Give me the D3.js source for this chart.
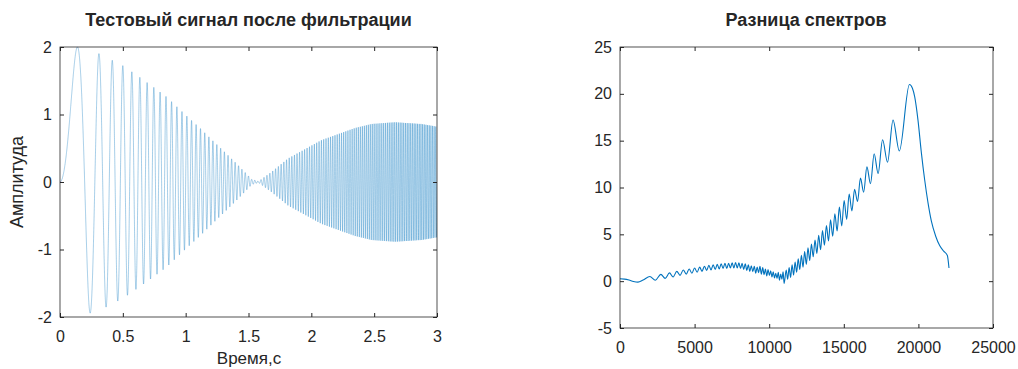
<!DOCTYPE html>
<html>
<head>
<meta charset="utf-8">
<title>Сигнал после фильтрации</title>
<style>
  body { margin: 0; background: #fff; }
  svg text { font-family: "Liberation Sans", Arial, sans-serif; fill: #262626; }
</style>
</head>
<body>
<script src="https://d3js.org/d3.v7.min.js"></script>
<script>
    // left panel: envelope of the filtered chirp (time s, amplitude)
    var envTime = [0, 0.151, 0.244, 0.313, 0.371, 0.419, 0.464, 0.504, 0.636, 0.748, 0.849, 0.933,
                   1.013, 1.119, 1.217, 1.307, 1.395, 1.474, 1.525, 1.58, 1.684, 1.816, 2.08,
                   2.347, 2.48, 2.665, 2.877, 3.0];
    var envAmp  = [2.0, 2.0, 1.94, 1.90, 1.85, 1.80, 1.76, 1.72, 1.55, 1.40, 1.26, 1.11,
                   0.97, 0.79, 0.61, 0.45, 0.29, 0.14, 0.04, 0.01, 0.15, 0.35, 0.62,
                   0.80, 0.86, 0.886, 0.86, 0.82];
    var chirpRate = 26;      // Hz per second, from the spacing of the visible peaks
    var sampleRate = 4000;   // points per second drawn
    var timeTicks = [0, 0.5, 1, 1.5, 2, 2.5, 3];
    var ampTicks = [-2, -1, 0, 1, 2];

    // right panel: spectrum difference, peaks and troughs
    var specFreq = [0, 300, 600, 900, 1200, 1550, 2000, 2370, 2739, 3028, 3317, 3562, 3808, 4025, 4243, 4440,
        4637, 4818, 5000, 5170, 5339, 5498, 5657, 5808, 5958, 6100, 6245, 6382, 6519, 6650, 6782, 6908,
        7035, 7157, 7280, 7398, 7517, 7631, 7746, 7857, 7969, 8077, 8185, 8290, 8396, 8500, 8602, 8702,
        8803, 8900, 9000, 9096, 9192, 9286, 9381, 9473, 9566, 9656, 9747, 9836, 9925, 10012, 10100, 10185,
        10271, 10355, 10440, 10523, 10607, 10688, 10770, 10851, 10932, 11000, 11140, 11237, 11334, 11434,
        11533, 11635, 11736, 11840, 11944, 12050, 12157, 12266, 12375, 12488, 12600, 12715, 12831, 12950,
        13070, 13193, 13316, 13443, 13571, 13703, 13836, 13974, 14112, 14256, 14400, 14551, 14703, 14862,
        15022, 15191, 15361, 15540, 15724, 15920, 16117, 16330, 16549, 16790, 17034, 17300, 17600, 17930,
        18300, 18720, 19400, 19600, 19750, 19972, 20200, 20422, 20645, 20870, 21160, 21425, 21695, 21940, 22050];
    var specDiff = [0.25, 0.22, 0.12, -0.03, -0.1, 0.12, 0.5, 0.1, 0.72, 0.3, 0.88, 0.45, 1.05, 0.62, 1.2, 0.75,
        1.3, 0.85, 1.4, 0.95, 1.5, 1.05, 1.6, 1.15, 1.7, 1.2, 1.75, 1.25, 1.8, 1.3, 1.85, 1.35,
        1.9, 1.35, 1.9, 1.4, 1.95, 1.4, 2.0, 1.4, 1.95, 1.35, 1.9, 1.25, 1.85, 1.15, 1.75, 1.05,
        1.65, 1.0, 1.6, 0.85, 1.5, 0.9, 1.6, 0.75, 1.45, 0.7, 1.3, 0.55, 1.25, 0.6, 1.1, 0.45,
        1.0, 0.35, 0.85, 0.3, 0.95, 0.1, 0.75, 0.2, 1.0, -0.25, 1.2, 0.2, 1.45, 0.4,
        1.75, 0.65, 2.05, 0.95, 2.4, 1.25, 2.75, 1.5, 3.15, 1.8, 3.55, 2.2, 3.95, 2.6,
        4.4, 2.95, 4.9, 3.35, 5.4, 3.85, 5.95, 4.3, 6.55, 4.8, 7.2, 5.35, 7.9, 5.9,
        8.6, 6.6, 9.3, 7.5, 9.8, 8.5, 11.0, 9.5, 12.2, 10.4, 13.6, 11.5, 15.1, 12.7,
        17.2, 13.9, 21.0, 20.6, 19.7, 17.2, 13.7, 10.8, 8.35, 6.4, 4.8, 3.8, 3.2, 2.75, 1.4];
    var freqTicks = [0, 5000, 10000, 15000, 20000, 25000];
    var diffTicks = [-5, 0, 5, 10, 15, 20, 25];

    var width = 1018,
        height = 369,
        lineColor = '#0072bd';

    var svg = d3.select('body').append('svg')
            .attr('width', width)
            .attr('height', height);

    function drawFrame(x, y, xTicks, yTicks) {
        var g = svg.append('g');
        var x0 = x.range()[0], x1 = x.range()[1],
            yB = y.range()[0], yT = y.range()[1];
        var fmt = function (d) { return String(d); };

        g.append('g').attr('transform', 'translate(0,' + yB + ')')
            .call(d3.axisBottom(x).tickValues(xTicks).tickFormat(fmt).tickSizeInner(-4).tickSizeOuter(0).tickPadding(14));
        g.append('g').attr('transform', 'translate(' + x0 + ',0)')
            .call(d3.axisLeft(y).tickValues(yTicks).tickFormat(fmt).tickSizeInner(-4).tickSizeOuter(0).tickPadding(8));
        // mirrored ticks on top and right, no labels
        g.append('g').attr('transform', 'translate(0,' + yT + ')')
            .call(d3.axisTop(x).tickValues(xTicks).tickFormat('').tickSizeInner(-4).tickSizeOuter(0));
        g.append('g').attr('transform', 'translate(' + x1 + ',0)')
            .call(d3.axisRight(y).tickValues(yTicks).tickFormat('').tickSizeInner(-4).tickSizeOuter(0));

        g.selectAll('.domain').remove();
        g.selectAll('.tick line').attr('stroke', '#262626');
        g.selectAll('.tick text')
            .attr('font-family', '"Liberation Sans", Arial, sans-serif')
            .attr('font-size', 16)
            .attr('fill', '#262626');

        g.append('rect')
            .attr('x', x0).attr('y', yT)
            .attr('width', x1 - x0).attr('height', yB - yT)
            .attr('fill', 'none')
            .attr('stroke', '#262626')
            .attr('stroke-width', 0.8);
    }

    function addTitle(text, cx) {
        svg.append('text')
            .attr('x', cx).attr('y', 26)
            .attr('text-anchor', 'middle')
            .attr('font-size', 18)
            .attr('font-weight', 'bold')
            .attr('fill', '#000')
            .text(text);
    }

    // ---- left: filtered test signal ----
    var xSig = d3.scaleLinear().domain([0, 3]).range([60, 437]);
    var ySig = d3.scaleLinear().domain([-2, 2]).range([317, 47]);
    var envelope = d3.scaleLinear().domain(envTime).range(envAmp);

    var sig = d3.range(0, 3 * sampleRate + 1).map(function (i) {
        var t = i / sampleRate;
        return [t, envelope(t) * Math.sin(Math.PI * chirpRate * t * t)];
    });

    svg.append('clipPath').attr('id', 'clipL')
        .append('rect').attr('x', 60).attr('y', 46).attr('width', 377).attr('height', 272);

    svg.append('path')
        .datum(sig)
        .attr('clip-path', 'url(#clipL)')
        .attr('fill', 'none')
        .attr('stroke', lineColor)
        .attr('stroke-opacity', 0.7)
        .attr('stroke-width', 0.5)
        .attr('d', d3.line()
            .x(function (d) { return xSig(d[0]); })
            .y(function (d) { return ySig(d[1]); }));

    drawFrame(xSig, ySig, timeTicks, ampTicks);
    addTitle('Тестовый сигнал после фильтрации', 248.5);

    svg.append('text')
        .attr('x', 249).attr('y', 364)
        .attr('text-anchor', 'middle')
        .attr('font-size', 17)
        .text('Время,с');

    svg.append('text')
        .attr('transform', 'translate(23,182) rotate(-90)')
        .attr('text-anchor', 'middle')
        .attr('font-size', 18)
        .text('Амплитуда');

    // ---- right: spectrum difference ----
    var xSpec = d3.scaleLinear().domain([0, 25000]).range([620, 993]);
    var ySpec = d3.scaleLinear().domain([-5, 25]).range([328, 47]);

    var spec = specFreq.map(function (f, i) { return [f, specDiff[i]]; });

    svg.append('path')
        .datum(spec)
        .attr('fill', 'none')
        .attr('stroke', lineColor)
        .attr('stroke-width', 1.1)
        .attr('d', d3.line()
            .curve(d3.curveMonotoneX)
            .x(function (d) { return xSpec(d[0]); })
            .y(function (d) { return ySpec(d[1]); }));

    drawFrame(xSpec, ySpec, freqTicks, diffTicks);
    addTitle('Разница спектров', 806);
</script>
</body>
</html>
